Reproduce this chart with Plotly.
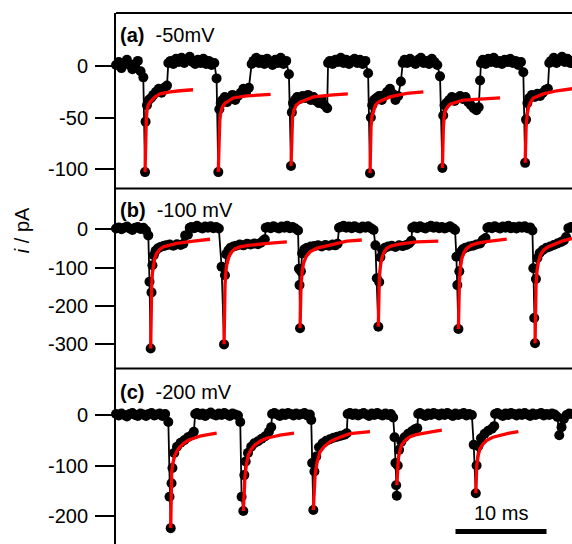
import plotly.graph_objects as go

FONT = "Liberation Sans, Arial, sans-serif"

# ---------------- data (time in ms, current in pA) ----------------
TRACE_A = [(0.0,1),(0.3,4),(0.6,-2),(0.9,3),(1.2,6),(1.5,1),(1.8,-3),(2.1,2),(2.4,5),(2.7,-5),(3.0,-11),
           (3.19,-103),(3.25,-54),(3.4,-38),(3.6,-33),(3.85,-31),(4.1,-28),(4.4,-25),(4.7,-22),(5.0,-26),(5.3,-21),(5.6,-19),(5.75,3),
           (6.0,5),(6.3,2),(6.6,7),(6.9,4),(7.2,8),(7.5,3),(7.8,6),(8.1,9),(8.4,4),(8.7,2),(9.0,6),(9.3,3),(9.6,7),(9.9,2),(10.2,5),(10.5,1),(10.8,3),(11.05,-12),
           (11.24,-103),(11.35,-42),(11.5,-36),(11.7,-33),(11.95,-30),(12.2,-35),(12.5,-31),(12.8,-28),(13.1,-33),(13.4,-29),(13.7,-26),(14.0,-22),(14.3,-25),(14.6,-21),(14.9,2),
           (15.1,5),(15.4,8),(15.7,3),(16.0,6),(16.3,2),(16.6,7),(16.9,4),(17.2,1),(17.5,6),(17.8,3),(18.1,8),(18.4,2),(18.7,5),(19.0,-8),
           (19.23,-97),(19.32,-45),(19.45,-36),(19.65,-33),(19.9,-30),(20.2,-32),(20.5,-29),(20.8,-31),(21.1,-28),(21.4,-33),(21.7,-30),(22.0,-34),(22.3,-36),(22.6,-33),(22.9,-38),(23.2,-41),(23.3,3),
           (23.5,5),(23.8,2),(24.1,6),(24.4,4),(24.7,8),(25.0,3),(25.3,6),(25.6,2),(25.9,5),(26.2,7),(26.5,3),(26.8,6),(27.1,2),(27.4,5),(27.7,-7),
           (27.91,-104),(28.0,-50),(28.15,-38),(28.35,-33),(28.6,-31),(28.9,-29),(29.2,-33),(29.5,-28),(29.8,-25),(30.1,-22),(30.4,-27),(30.7,-33),(31.0,-29),(31.3,-15),(31.5,3),
           (31.7,6),(32.0,3),(32.3,7),(32.6,4),(32.9,2),(33.2,6),(33.5,8),(33.8,3),(34.1,5),(34.4,2),(34.7,7),(35.0,4),(35.3,1),(35.6,-10),
           (35.86,-99),(35.95,-48),(36.1,-38),(36.3,-36),(36.6,-33),(36.9,-30),(37.2,-34),(37.5,-31),(37.8,-29),(38.1,-32),(38.4,-30),(38.7,-35),(39.0,-38),(39.3,-41),(39.6,-43),(39.85,-40),(40.0,-14),(40.1,3),
           (40.3,6),(40.6,2),(40.9,7),(41.2,4),(41.5,8),(41.8,3),(42.1,5),(42.4,2),(42.7,6),(43.0,4),(43.3,7),(43.6,3),(43.9,5),(44.2,1),(44.5,4),(44.75,-6),
           (44.95,-94),(45.05,-52),(45.2,-36),(45.4,-31),(45.7,-28),(46.0,-30),(46.3,-27),(46.6,-29),(46.9,-26),(47.2,-23),(47.45,-22),(47.6,3),
           (47.8,5),(48.1,8),(48.4,3),(48.7,6),(49.0,9),(49.3,4),(49.6,7),(49.9,3),(50.1,5)]

TRACE_B = [(0.0,2),(0.3,5),(0.6,0),(0.9,4),(1.2,7),(1.5,2),(1.8,-2),(2.1,4),(2.4,6),(2.7,1),(3.0,4),(3.3,-3),(3.55,-16),
           (3.68,-137),(3.81,-312),(3.9,-165),(4.0,-94),(4.15,-68),(4.35,-56),(4.6,-50),(4.9,-46),(5.2,-44),(5.5,-42),(5.9,-40),(6.3,-43),(6.7,-39),(7.1,-41),(7.4,-38),(7.6,-16),(7.9,-14),(8.1,4),
           (8.3,6),(8.6,3),(8.9,9),(9.2,5),(9.5,2),(9.8,7),(10.1,4),(10.4,8),(10.7,3),(11.0,6),(11.3,2),(11.6,-98),
           (11.87,-301),(11.97,-120),(12.1,-65),(12.35,-55),(12.6,-48),(12.9,-45),(13.2,-43),(13.6,-40),(14.0,-42),(14.4,-38),(14.8,-40),(15.2,-37),(15.6,-39),(15.9,-35),(16.2,-29),(16.35,-26),(16.45,4),
           (16.7,6),(17.0,3),(17.3,8),(17.6,5),(17.9,2),(18.2,7),(18.5,4),(18.8,9),(19.1,3),(19.4,6),(19.7,2),(20.0,-3),
           (20.1,-103),(20.16,-146),(20.22,-259),(20.32,-110),(20.45,-63),(20.7,-52),(21.0,-48),(21.4,-45),(21.8,-44),(22.2,-42),(22.6,-45),(23.0,-41),(23.4,-43),(23.8,-40),(24.1,-42),(24.35,-38),(24.5,4),
           (24.7,6),(25.0,9),(25.3,4),(25.6,7),(25.9,3),(26.2,8),(26.5,5),(26.8,2),(27.1,7),(27.4,4),(27.7,8),(28.0,3),(28.3,-2),
           (28.5,-42),(28.65,-128),(28.82,-255),(28.92,-138),(29.05,-73),(29.25,-55),(29.55,-48),(29.9,-45),(30.3,-43),(30.7,-46),(31.1,-42),(31.5,-44),(31.9,-41),(32.2,-37),(32.45,-30),(32.55,4),
           (32.8,7),(33.1,3),(33.4,8),(33.7,5),(34.0,2),(34.3,6),(34.6,9),(34.9,4),(35.2,7),(35.5,3),(35.8,6),(36.1,2),(36.4,5),(36.7,8),(37.0,3),(37.25,-2),
           (37.4,-72),(37.5,-146),(37.62,-261),(37.72,-110),(37.85,-60),(38.1,-52),(38.4,-48),(38.8,-45),(39.2,-43),(39.6,-40),(40.0,-37),(40.3,-28),(40.6,-23),(40.8,4),
           (41.0,6),(41.3,3),(41.6,8),(41.9,5),(42.2,2),(42.5,7),(42.8,4),(43.1,9),(43.4,3),(43.7,6),(44.0,2),(44.3,7),(44.6,4),(44.9,8),(45.2,3),(45.5,5),(45.75,-3),
           (45.85,-102),(45.95,-232),(46.04,-298),(46.14,-130),(46.3,-75),(46.55,-62),(46.9,-54),(47.3,-48),(47.7,-45),(48.1,-41),(48.5,-37),(48.9,-33),(49.2,-29),(49.45,-20),(49.7,3),(50.0,6),(50.1,4)]

TRACE_C = [(0.0,2),(0.3,-1),(0.6,3),(0.9,0),(1.2,-3),(1.5,2),(1.8,4),(2.1,0),(2.4,-2),(2.7,3),(3.0,1),(3.3,-2),(3.6,2),(3.9,4),(4.2,-1),(4.5,1),(4.8,3),(5.1,-2),(5.4,2),(5.75,-14),
           (5.88,-162),(6.01,-224),(6.1,-135),(6.2,-105),(6.4,-75),(6.7,-63),(7.1,-55),(7.5,-50),(7.9,-44),(8.3,-40),(8.55,-33),(8.7,2),
           (8.9,4),(9.2,0),(9.5,3),(9.8,-2),(10.1,2),(10.4,5),(10.7,1),(11.0,-1),(11.3,3),(11.6,0),(11.9,4),(12.2,1),(12.5,-2),(12.8,3),(13.1,1),(13.4,-1),(13.65,-14),
           (13.8,-162),(13.99,-190),(14.1,-119),(14.25,-92),(14.5,-75),(14.85,-63),(15.2,-56),(15.6,-52),(16.0,-47),(16.4,-42),(16.8,-33),(17.05,-24),(17.15,2),
           (17.4,4),(17.7,1),(18.0,-2),(18.3,3),(18.6,0),(18.9,4),(19.2,2),(19.5,-1),(19.8,3),(20.1,0),(20.4,2),(20.7,4),(21.0,-1),(21.3,1),(21.45,-10),
           (21.55,-95),(21.68,-188),(21.8,-112),(22.0,-82),(22.3,-64),(22.7,-56),(23.1,-51),(23.5,-48),(23.9,-45),(24.3,-43),(24.7,-41),(25.1,-39),(25.35,-36),(25.45,2),
           (25.7,4),(26.0,0),(26.3,3),(26.6,-1),(26.9,2),(27.2,4),(27.5,1),(27.8,-2),(28.1,3),(28.4,0),(28.7,4),(29.0,1),(29.3,-1),(29.6,3),(29.9,0),(30.2,2),(30.45,-5),(30.6,-44),
           (30.7,-95),(30.78,-139),(30.85,-160),(30.95,-100),(31.1,-69),(31.35,-53),(31.7,-44),(32.1,-37),(32.5,-32),(32.85,-28),(33.1,-26),(33.2,2),
           (33.4,4),(33.7,1),(34.0,-2),(34.3,3),(34.6,0),(34.9,4),(35.2,2),(35.5,-1),(35.8,3),(36.1,0),(36.4,4),(36.7,1),(37.0,-2),(37.3,3),(37.6,0),(37.9,2),(38.2,4),(38.5,-1),(38.8,2),(39.1,0),(39.3,-59),
           (39.53,-155),(39.62,-100),(39.8,-62),(40.1,-46),(40.5,-37),(40.9,-31),(41.3,-27),(41.55,-22),(41.65,2),
           (41.9,4),(42.2,1),(42.5,-2),(42.8,3),(43.1,0),(43.4,4),(43.7,2),(44.0,-1),(44.3,3),(44.6,0),(44.9,4),(45.2,1),(45.5,-2),(45.8,3),(46.1,0),(46.4,2),(46.7,4),(47.0,-1),(47.3,2),(47.6,0),(47.9,3),(48.2,1),(48.5,-4),
           (48.7,-40),(48.95,-24),(49.2,-8),(49.5,0),(49.8,3),(50.1,2)]

# exponential fits (red), one list per pulse
FITS_A = [
    [(3.19,-103),(3.23,-78),(3.27,-62),(3.33,-51),(3.41,-43),(3.54,-38),(3.74,-35),(4.29,-30),(4.84,-27),(5.94,-25),(7.04,-24),(8.46,-23)],
    [(11.24,-103),(11.28,-80),(11.32,-65),(11.4,-53),(11.5,-46),(11.68,-40),(11.98,-36),(12.89,-31),(14.35,-29),(16.99,-27.5)],
    [(19.23,-97),(19.27,-74),(19.30,-59),(19.4,-49),(19.56,-43),(19.8,-38),(20.22,-35),(21.68,-30),(23.88,-28),(25.47,-27)],
    [(27.91,-104),(27.96,-76),(28.02,-59),(28.12,-49),(28.28,-43),(28.5,-38),(28.83,-35),(30.11,-30),(31.94,-26.5),(33.77,-25)],
    [(35.86,-99),(35.91,-74),(35.97,-59),(36.05,-50),(36.15,-44),(36.4,-40),(36.71,-37),(38.16,-33),(39.96,-32),(42.2,-31)],
    [(44.95,-94),(45.0,-72),(45.06,-59),(45.18,-47),(45.32,-40),(45.55,-35),(45.86,-31),(46.96,-27),(48.43,-24),(50.11,-22)],
]
FITS_B = [
    [(3.81,-312),(3.85,-210),(3.92,-146),(4.0,-115),(4.10,-94),(4.25,-76),(4.47,-63),(4.8,-53),(5.19,-46),(5.9,-41),(6.67,-37),(8.51,-31),(10.33,-26)],
    [(11.87,-301),(11.91,-205),(11.98,-146),(12.06,-114),(12.16,-94),(12.4,-72),(12.71,-59),(13.1,-51),(13.63,-46),(14.5,-42),(15.47,-39),(17.0,-36),(18.77,-33)],
    [(20.22,-259),(20.26,-190),(20.33,-146),(20.45,-112),(20.59,-90),(20.9,-71),(21.32,-59),(22.1,-49),(23.15,-43),(24.2,-36),(25.36,-31),(27.0,-28)],
    [(28.82,-255),(28.86,-180),(28.93,-128),(29.04,-98),(29.19,-77),(29.43,-61),(29.74,-50),(30.2,-44),(30.83,-40),(31.9,-36),(33.03,-33),(35.41,-31)],
    [(37.62,-261),(37.66,-185),(37.73,-138),(37.84,-101),(37.99,-77),(38.23,-61),(38.54,-50),(39.0,-42),(39.64,-37),(40.5,-33),(41.47,-30),(42.93,-26)],
    [(46.04,-298),(46.08,-205),(46.15,-146),(46.26,-108),(46.41,-85),(46.65,-67),(46.96,-55),(47.4,-47),(48.05,-40),(49.0,-31),(50.11,-24)],
]
FITS_C = [
    [(6.01,-224),(6.05,-164),(6.12,-112),(6.25,-95),(6.48,-79),(6.75,-70),(7.03,-63),(7.45,-56),(7.94,-50),(8.55,-46),(9.23,-42),(10.1,-39),(11.06,-36)],
    [(13.99,-190),(14.06,-150),(14.18,-119),(14.34,-97),(14.54,-79),(14.85,-68),(15.27,-59),(15.85,-52),(16.55,-46),(17.25,-43),(18.02,-40),(19.56,-36)],
    [(21.68,-188),(21.75,-148),(21.87,-119),(22.1,-93),(22.42,-73),(22.9,-62),(23.52,-53),(24.6,-44),(25.71,-37),(26.8,-35),(27.91,-33)],
    [(30.85,-139),(30.92,-106),(31.03,-85),(31.2,-70),(31.4,-59),(31.8,-50),(32.31,-43),(33.0,-39),(33.78,-36),(34.8,-33),(35.8,-30)],
    [(39.53,-155),(39.57,-120),(39.64,-99),(39.8,-80),(40.0,-66),(40.35,-57),(40.74,-50),(41.4,-44),(42.2,-40),(43.2,-36),(44.21,-33)],
]

TICKS_A = [0, -50, -100]
TICKS_B = [0, -100, -200, -300]
TICKS_C = [0, -100, -200]
LABELS = ["<b>(a)</b>  -50mV", "<b>(b)</b>  -100 mV", "<b>(c)</b>  -200 mV"]
Y_TITLE = "<i>i</i> / pA"
SCALE_MS = 10
SCALE_TEXT = "10 ms"

# ---------------- layout geometry ----------------
X_RANGE = [0, 50.1]
RANGES = [[-118.9, 51.5], [-364.1, 106.7], [-255.4, 92.1]]
DOMAINS = [[0.6535, 0.9761], [0.3226, 0.6535], [0.0, 0.3226]]

fig = go.Figure()
panels = [(TRACE_A, FITS_A, "y"), (TRACE_B, FITS_B, "y2"), (TRACE_C, FITS_C, "y3")]
for trace, fits, yax in panels:
    t = [p[0] for p in trace]
    i = [p[1] for p in trace]
    fig.add_trace(go.Scatter(x=t, y=i, mode="lines+markers", yaxis=yax, xaxis="x",
                             line=dict(color="black", width=1.8),
                             marker=dict(color="black", size=10, line=dict(width=0)),
                             cliponaxis=False, showlegend=False, hoverinfo="skip"))
    for f in fits:
        fig.add_trace(go.Scatter(x=[p[0] for p in f], y=[p[1] for p in f], mode="lines",
                                 yaxis=yax, xaxis="x",
                                 line=dict(color="#ff0000", width=3.3),
                                 showlegend=False, hoverinfo="skip"))


def yaxis_cfg(rng, dom, ticks):
    return dict(range=rng, domain=dom, tickvals=ticks, ticktext=[str(v) for v in ticks],
                showline=True, linecolor="black", linewidth=2, ticks="outside",
                ticklen=19, tickwidth=2, tickcolor="black", showgrid=False,
                zeroline=False, anchor="x", automargin=False, ticklabelstandoff=3,
                tickfont=dict(family=FONT, size=20, color="black"))


fig.update_layout(
    template="none",
    width=572, height=544,
    margin=dict(l=116, r=0, t=0, b=0, autoexpand=False),
    paper_bgcolor="white", plot_bgcolor="white",
    showlegend=False,
    xaxis=dict(range=X_RANGE, visible=False, domain=[0, 1], automargin=False),
    yaxis=yaxis_cfg(RANGES[0], DOMAINS[0], TICKS_A),
    yaxis2=yaxis_cfg(RANGES[1], DOMAINS[1], TICKS_B),
    yaxis3=yaxis_cfg(RANGES[2], DOMAINS[2], TICKS_C),
)

# panel frame lines (top and separators)
for d in [DOMAINS[0][1], DOMAINS[0][0], DOMAINS[1][0]]:
    fig.add_shape(type="line", xref="paper", yref="paper", x0=0, x1=1, y0=d, y1=d,
                  line=dict(color="black", width=2))

# panel labels
label_y = [0.936, 0.614, 0.279]
for txt, yy in zip(LABELS, label_y):
    fig.add_annotation(text=txt, xref="paper", yref="paper", x=0.004, y=yy,
                       xanchor="left", yanchor="middle", showarrow=False,
                       font=dict(family=FONT, size=20, color="black"))

# y title
fig.add_annotation(text=Y_TITLE, xref="paper", yref="paper", x=-0.206, y=0.577,
                   textangle=-90, xanchor="center", yanchor="middle", showarrow=False,
                   font=dict(family=FONT, size=20, color="black"))

# scale bar
sb_x0 = 37.3
fig.add_shape(type="line", xref="x", yref="y3", x0=sb_x0, x1=sb_x0 + SCALE_MS,
              y0=-230.7, y1=-230.7, line=dict(color="black", width=5))
fig.add_annotation(text=SCALE_TEXT, xref="x", yref="y3", x=sb_x0 + SCALE_MS / 2, y=-194,
                   xanchor="center", yanchor="middle", showarrow=False,
                   font=dict(family=FONT, size=20, color="black"))

fig.write_html("out.html", config={"displayModeBar": False},
               post_script="document.body.style.margin='0px';document.body.style.overflow='hidden';")
